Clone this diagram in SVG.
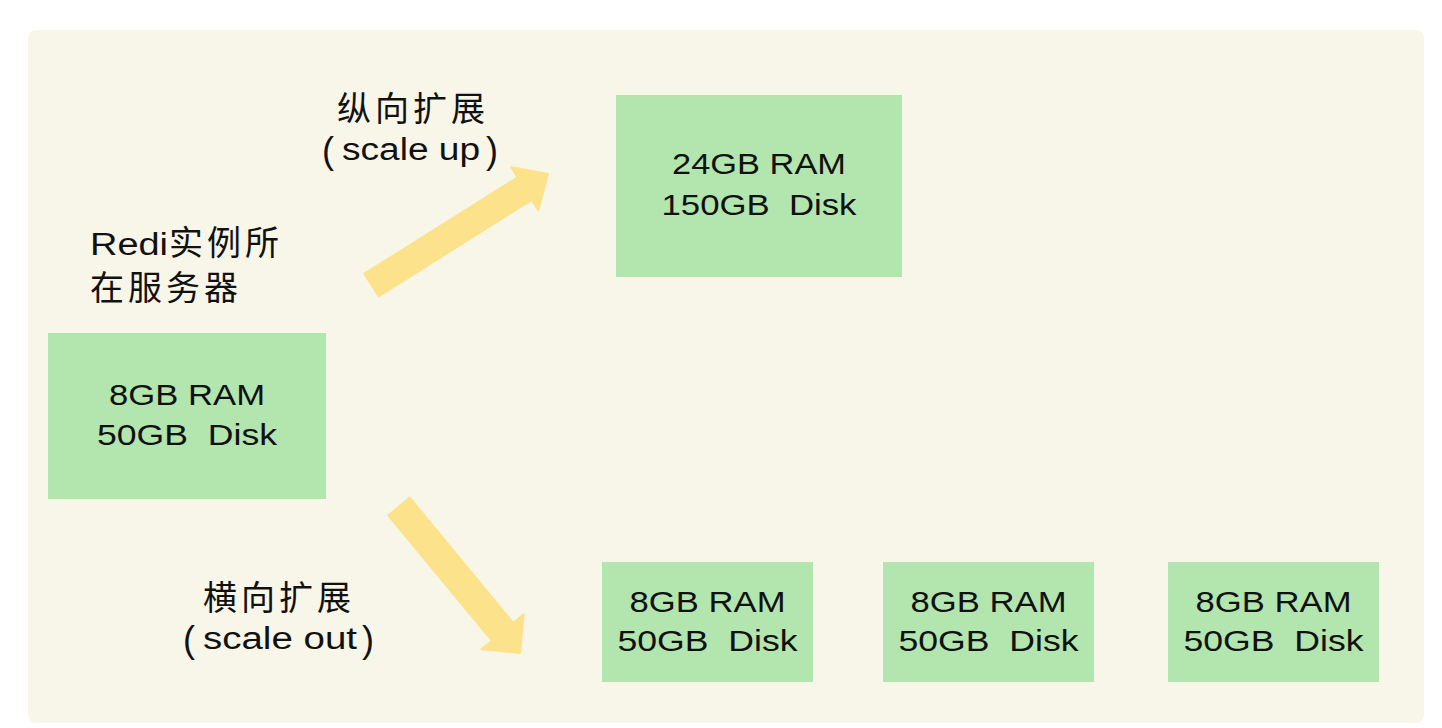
<svg xmlns="http://www.w3.org/2000/svg" width="1442" height="728" viewBox="0 0 1442 728">
  <style>
    .panel { fill: #F8F6E9; }
    .box { fill: #B3E5AE; }
    .arrow { fill: #FCE28A; stroke: #FCE28A; stroke-width: 2; stroke-linejoin: round; }
    .bt { font-family: "Liberation Sans", Arial, sans-serif; font-size: 30px; fill: #111; text-anchor: middle; white-space: pre; }
    .lb { font-family: "Liberation Sans", "Noto Sans CJK SC", sans-serif; font-size: 34px; fill: #111; }
    .cj { letter-spacing: 4px; }
    .lt { font-size: 31px; }
    .pr { font-size: 36px; }
  </style>
  <rect width="1442" height="728" fill="#FFFFFF"/>
  <rect class="panel" x="28" y="30" width="1396" height="693" rx="8"/>

  <g id="label-server">
    <text class="lb lt" x="90" y="255" textLength="78" lengthAdjust="spacingAndGlyphs">Redi</text>
    <text class="lb cj" x="169" y="255">实例所</text>
    <text class="lb cj" x="90" y="300">在服务器</text>
  </g>

  <g id="node-origin">
    <rect class="box" x="48" y="333" width="278" height="166"/>
    <text class="bt" x="187" y="405" textLength="156" lengthAdjust="spacingAndGlyphs">8GB RAM</text>
    <text class="bt" x="187" y="445" textLength="180" lengthAdjust="spacingAndGlyphs" xml:space="preserve">50GB  Disk</text>
  </g>

  <g id="label-scale-up">
    <text class="lb cj" x="337" y="121">纵向扩展</text>
    <text class="lb pr" x="322" y="163">(</text>
    <text class="lb lt" x="342" y="160" textLength="138" lengthAdjust="spacingAndGlyphs">scale up</text>
    <text class="lb pr" x="486" y="163">)</text>
  </g>

  <g id="node-scale-up">
    <rect class="box" x="616" y="95" width="286" height="182"/>
    <text class="bt" x="759" y="174" textLength="174" lengthAdjust="spacingAndGlyphs">24GB RAM</text>
    <text class="bt" x="759" y="215" textLength="195" lengthAdjust="spacingAndGlyphs" xml:space="preserve">150GB  Disk</text>
  </g>

  <g id="label-scale-out">
    <text class="lb cj" x="203" y="610">横向扩展</text>
    <text class="lb pr" x="183" y="652">(</text>
    <text class="lb lt" x="203" y="649" textLength="154" lengthAdjust="spacingAndGlyphs">scale out</text>
    <text class="lb pr" x="362" y="652">)</text>
  </g>

  <g id="node-out-1">
    <rect class="box" x="602" y="562" width="211" height="120"/>
    <text class="bt" x="707.5" y="612" textLength="156" lengthAdjust="spacingAndGlyphs">8GB RAM</text>
    <text class="bt" x="707.5" y="651" textLength="180" lengthAdjust="spacingAndGlyphs" xml:space="preserve">50GB  Disk</text>
  </g>
  <g id="node-out-2">
    <rect class="box" x="883" y="562" width="211" height="120"/>
    <text class="bt" x="988.5" y="612" textLength="156" lengthAdjust="spacingAndGlyphs">8GB RAM</text>
    <text class="bt" x="988.5" y="651" textLength="180" lengthAdjust="spacingAndGlyphs" xml:space="preserve">50GB  Disk</text>
  </g>
  <g id="node-out-3">
    <rect class="box" x="1168" y="562" width="211" height="120"/>
    <text class="bt" x="1273.5" y="612" textLength="156" lengthAdjust="spacingAndGlyphs">8GB RAM</text>
    <text class="bt" x="1273.5" y="651" textLength="180" lengthAdjust="spacingAndGlyphs" xml:space="preserve">50GB  Disk</text>
  </g>

  <g id="connectors">
    <polygon class="arrow" points="364.4,273.7 517.6,177.3 511.1,167 548,174 538.3,210.2 531.8,199.9 378.6,296.3"/>
    <polygon class="arrow" points="409.7,497.6 513.2,622.9 523.7,614.3 520,653 481.3,649.3 491.8,640.7 388.3,515.4"/>
  </g>
</svg>
